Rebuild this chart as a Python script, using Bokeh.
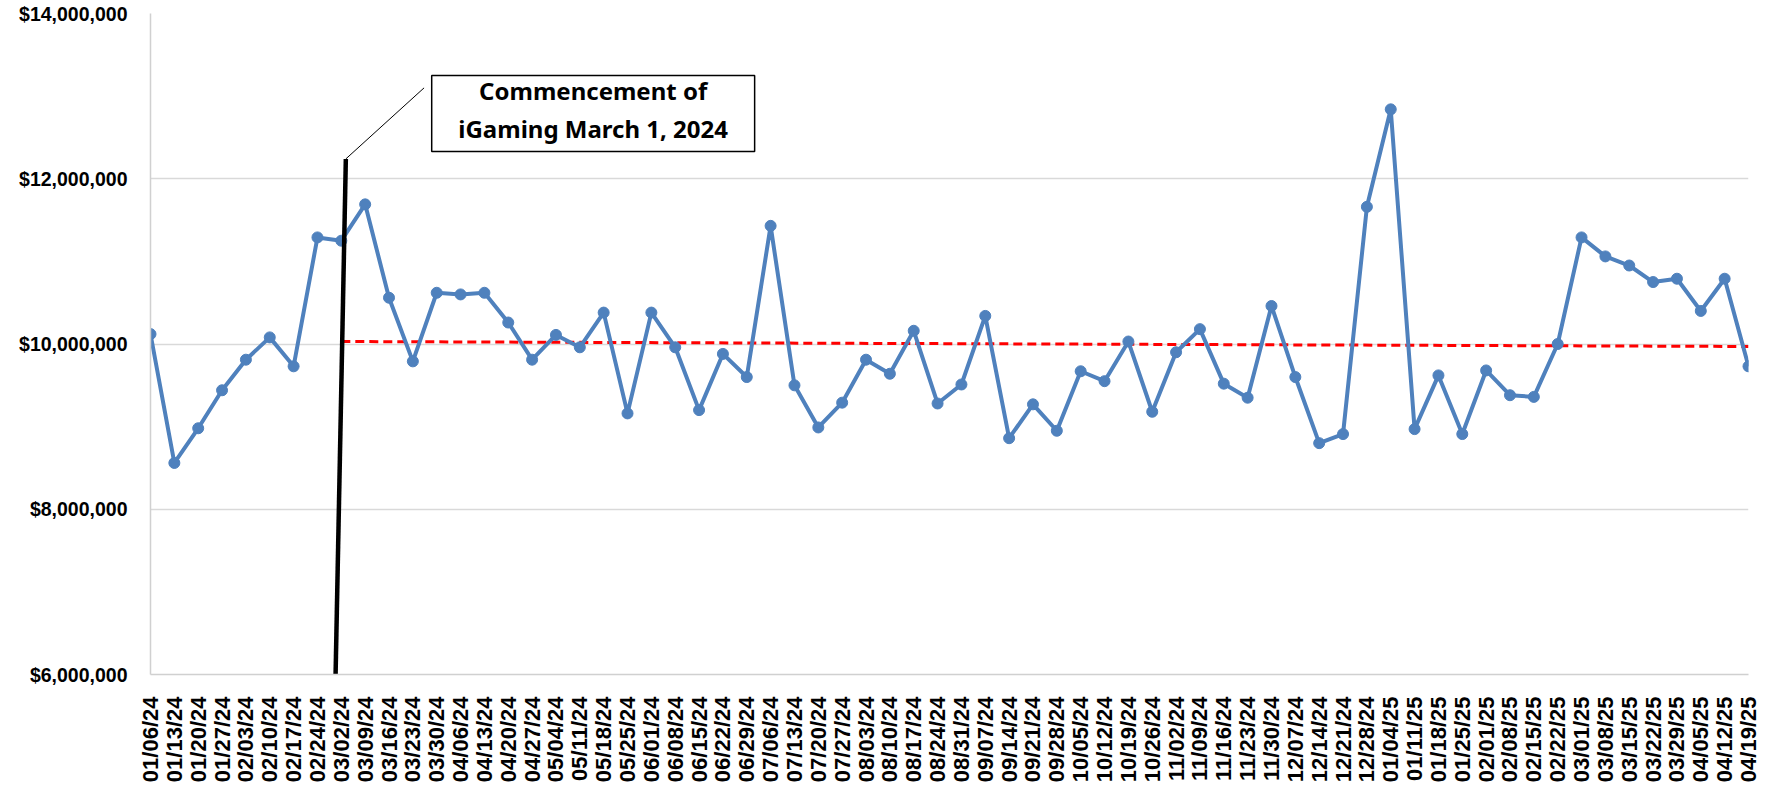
import math
from bokeh.plotting import figure
from bokeh.models import Range1d, FixedTicker, NumeralTickFormatter, BoxAnnotation, Label
from bokeh.embed import file_html
from bokeh.resources import INLINE

dates = ["01/06/24", "01/13/24", "01/20/24", "01/27/24", "02/03/24", "02/10/24", "02/17/24", "02/24/24",
         "03/02/24", "03/09/24", "03/16/24", "03/23/24", "03/30/24", "04/06/24", "04/13/24", "04/20/24",
         "04/27/24", "05/04/24", "05/11/24", "05/18/24", "05/25/24", "06/01/24", "06/08/24", "06/15/24",
         "06/22/24", "06/29/24", "07/06/24", "07/13/24", "07/20/24", "07/27/24", "08/03/24", "08/10/24",
         "08/17/24", "08/24/24", "08/31/24", "09/07/24", "09/14/24", "09/21/24", "09/28/24", "10/05/24",
         "10/12/24", "10/19/24", "10/26/24", "11/02/24", "11/09/24", "11/16/24", "11/23/24", "11/30/24",
         "12/07/24", "12/14/24", "12/21/24", "12/28/24", "01/04/25", "01/11/25", "01/18/25", "01/25/25",
         "02/01/25", "02/08/25", "02/15/25", "02/22/25", "03/01/25", "03/08/25", "03/15/25", "03/22/25",
         "03/29/25", "04/05/25", "04/12/25", "04/19/25"]

revenue_millions = [10.12, 8.56, 8.98, 9.44, 9.81, 10.08, 9.73, 11.29,
                    11.25, 11.69, 10.56, 9.79, 10.62, 10.60, 10.62, 10.26,
                    9.81, 10.11, 9.96, 10.38, 9.16, 10.38, 9.96, 9.20,
                    9.88, 9.60, 11.43, 9.50, 8.99, 9.29, 9.81, 9.64,
                    10.16, 9.28, 9.51, 10.34, 8.86, 9.27, 8.95, 9.67,
                    9.55, 10.03, 9.18, 9.90, 10.18, 9.52, 9.35, 10.46,
                    9.60, 8.80, 8.91, 11.66, 12.84, 8.97, 9.62, 8.91,
                    9.68, 9.38, 9.36, 10.00, 11.29, 11.06, 10.95, 10.75,
                    10.79, 10.40, 10.79, 9.73]

trend_start_index = 8          # 03/02/24
trend_values_millions = [10.03, 9.97]
y_ticks = [6_000_000, 8_000_000, 10_000_000, 12_000_000, 14_000_000]
annotation_lines = ["Commencement of", "iGaming March 1, 2024"]

revenue = [v * 1_000_000 for v in revenue_millions]
xs = list(range(len(dates)))

FONT = "Liberation Sans"
BLUE = "#4F81BD"

p = figure(width=1765, height=785, output_backend="svg", toolbar_location=None,
           x_range=Range1d(0, len(dates) - 1), y_range=Range1d(6_000_000, 14_000_000),
           min_border_left=150, min_border_right=17, min_border_top=13, min_border_bottom=111)
p.outline_line_color = None
p.background_fill_color = "white"
p.border_fill_color = "white"

# axes
p.xaxis.ticker = FixedTicker(ticks=xs)
p.xaxis.major_label_overrides = {i: d for i, d in enumerate(dates)}
p.xaxis.major_label_orientation = math.pi / 2
p.xaxis.major_label_text_font = FONT
p.xaxis.major_label_text_font_style = "bold"
p.xaxis.major_label_text_font_size = "22px"
p.xaxis.major_label_text_color = "black"
p.xaxis.major_label_standoff = 16
p.xaxis.major_tick_line_color = None
p.xaxis.minor_tick_line_color = None
p.xaxis.axis_line_color = "#D0D0D0"
p.xaxis.axis_line_width = 1.5

p.yaxis.ticker = FixedTicker(ticks=y_ticks)
p.yaxis.formatter = NumeralTickFormatter(format="$0,0")
p.yaxis.major_label_text_font = FONT
p.yaxis.major_label_text_font_style = "bold"
p.yaxis.major_label_text_font_size = "19.5px"
p.yaxis.major_label_text_color = "black"
p.yaxis.major_label_standoff = 17
p.yaxis.major_tick_line_color = None
p.yaxis.minor_tick_line_color = None
p.yaxis.axis_line_color = "#D0D0D0"
p.yaxis.axis_line_width = 1.5

p.xgrid.grid_line_color = None
p.ygrid.grid_line_color = "#D9D9D9"
p.ygrid.grid_line_width = 1.5

# trend line
p.line([trend_start_index, len(dates) - 1], [v * 1_000_000 for v in trend_values_millions],
       line_color="#FF0000", line_width=3, line_dash="9 5")

# series
p.line(xs, revenue, line_color=BLUE, line_width=4)
p.scatter(xs, revenue, size=11, fill_color=BLUE, line_color=BLUE)

# commencement marker
p.line([7.76, 8.19], [6_000_000, 12_240_000], line_color="black", line_width=4.5)
p.line([8.19, 11.47], [12_240_000, 13_100_000], line_color="black", line_width=1)

box = BoxAnnotation(left=11.79, right=25.33, bottom=12_330_000, top=13_250_000,
                    fill_color="white", fill_alpha=1, line_color="black", line_alpha=1, line_width=1.5)
p.add_layout(box)
for txt, yv in zip(annotation_lines, [13_070_000, 12_610_000]):
    p.add_layout(Label(x=18.56, y=yv, text=txt, text_font="Noto Sans", text_font_style="bold",
                       text_font_size="24px", text_color="black", text_align="center",
                       text_baseline="middle"))

open("out.html", "w").write(file_html(p, INLINE))
